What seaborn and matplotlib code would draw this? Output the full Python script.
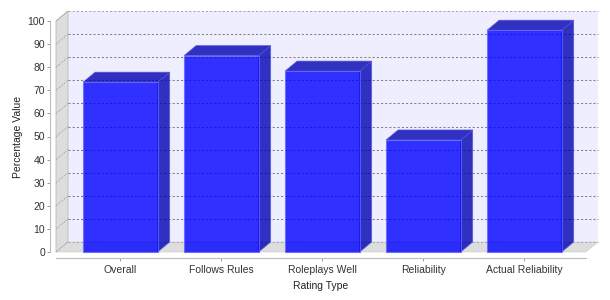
import matplotlib
matplotlib.use("Agg")
import matplotlib.pyplot as plt
from matplotlib.patches import Polygon
import seaborn as sns
import pandas as pd
import numpy as np

categories = ["Overall", "Follows Rules", "Roleplays Well", "Reliability", "Actual Reliability"]
values = [73.5, 85.0, 78.3, 48.5, 96.0]
y_ticks = [0, 10, 20, 30, 40, 50, 60, 70, 80, 90, 100]

sns.set_theme(style="white")
plt.rcParams['font.family'] = ['Liberation Sans', 'DejaVu Sans']

W, H = 610, 300
fig = plt.figure(figsize=(W / 100, H / 100), dpi=100)
fig.patch.set_facecolor("white")
# front plot rectangle in pixels
L, R, B, T = 56, 586, 252, 21
ax = fig.add_axes([L / W, (H - B) / H, (R - L) / W, (B - T) / H])
ax.set_facecolor("none")

df = pd.DataFrame({"cat": categories, "val": values})
xmin, xmax = -0.637, 4.61
ax.set_xlim(xmin, xmax)
ax.set_ylim(0, 100)

# pixel offsets for depth
DXP, DYP = 12, 10
dx = DXP * (xmax - xmin) / (R - L)
dy = DYP * 100 / (B - T)

def poly(pts, **kw):
    p = Polygon(pts, closed=True, clip_on=False, **kw)
    ax.add_patch(p)
    return p

# back wall
poly([(xmin + dx, dy), (xmax + dx, dy), (xmax + dx, 100 + dy), (xmin + dx, 100 + dy)],
     facecolor="#EEEEFF", edgecolor="none", zorder=0.2)
# left wall
poly([(xmin, 0), (xmin, 100), (xmin + dx, 100 + dy), (xmin + dx, dy)],
     facecolor="#DDDDDD", edgecolor="#BBBBBB", linewidth=0.6, zorder=0.3)
# floor
poly([(xmin, 0), (xmax, 0), (xmax + dx, dy), (xmin + dx, dy)],
     facecolor="#DDDDDD", edgecolor="#CCCCCC", linewidth=0.4, zorder=0.3)

# gridlines on back wall and diagonals on left wall
for v in y_ticks:
    ax.plot([xmin + dx, xmax + dx], [v + dy, v + dy], color="#808080" if 0 < v < 100 else "#A8A8B0",
            linewidth=0.75, dashes=(2, 2), clip_on=False, zorder=0.5)
    ax.plot([xmin, xmin + dx], [v, v + dy], color="#888888", linewidth=0.6,
            dashes=(1, 1.5), clip_on=False, zorder=0.5)

# front faces via seaborn
sns.barplot(data=df, x="cat", y="val", order=categories, color="#0000FF",
            width=0.738, alpha=0.8, saturation=1, ax=ax, zorder=2,
            edgecolor="#6666FF", linewidth=0.8)
ax.set_xlim(xmin, xmax)
ax.set_ylim(0, 100)

for p in list(ax.patches):
    if not hasattr(p, "get_width") or p.get_zorder() != 2:
        continue
    x0 = p.get_x()
    w = p.get_width()
    h = p.get_height()
    x1 = x0 + w
    p.set_clip_on(False)
    # side
    poly([(x1, 0), (x1, h), (x1 + dx, h + dy), (x1 + dx, dy)],
         facecolor="#0000B2", alpha=0.8, edgecolor="#5555DD", linewidth=0.6, zorder=1.9)
    # top
    poly([(x0, h), (x1, h), (x1 + dx, h + dy), (x0 + dx, h + dy)],
         facecolor="#0000B2", alpha=0.8, edgecolor="#5555DD", linewidth=0.6, zorder=1.9)

# axes styling
for s in ["top", "right"]:
    ax.spines[s].set_visible(False)
for s in ["left", "bottom"]:
    ax.spines[s].set_position(("outward", 4))
    ax.spines[s].set_color("#BBBBBB")
    ax.spines[s].set_linewidth(0.8)
ax.set_yticks(y_ticks)
ax.tick_params(axis="both", which="both", length=2, width=0.7, color="#999999",
               labelsize=7.5, labelcolor="#333333", pad=2, left=True, bottom=True)
ax.tick_params(axis="x", pad=3.5)
ax.set_xlabel("Rating Type", fontsize=7.5, color="#222222", labelpad=4)
ax.set_ylabel("Percentage Value", fontsize=7.5, color="#222222", labelpad=3)
ax.grid(False)

fig.savefig("out.png", dpi=100, facecolor="white")
